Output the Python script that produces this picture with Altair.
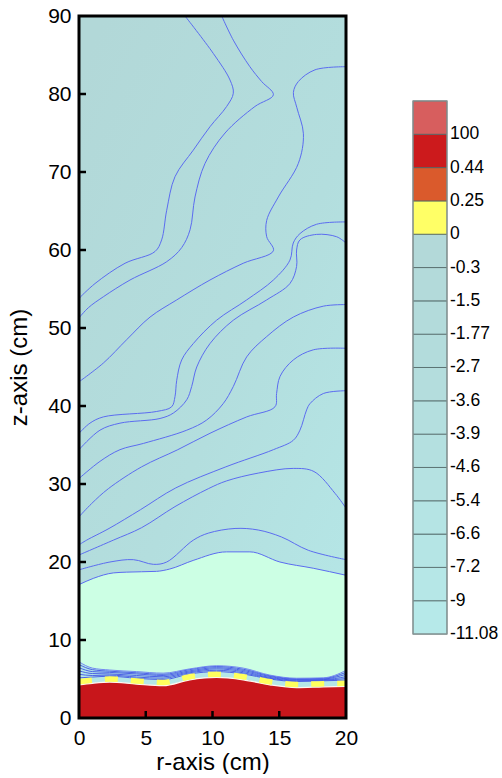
import altair as alt
import pandas as pd

# ---- axes ----
R_TICKS = [0, 5, 10, 15, 20]
Z_TICKS = [0, 10, 20, 30, 40, 50, 60, 70, 80, 90]

# ---- contour lines of the upper domain (r, z in cm) ----
A_R = [7.94, 10.06, 11.31, 11.56, 11.06, 9.81, 8.56, 7.19, 6.57, 6.19, 5.69, 3.45, 1.2, 0.0]
A_Z = [90.0, 85.2, 81.8, 80.1, 78.4, 75.8, 72.8, 69.4, 65.1, 61.3, 59.8, 58.3, 55.7, 53.8]

B_R = [10.69, 11.56, 12.8, 13.68, 14.56, 13.18, 10.94, 9.44, 8.69, 8.32, 7.69, 6.57, 3.82, 1.82, 0.7, 0.0]
B_Z = [90.0, 86.9, 83.5, 81.6, 79.9, 78.4, 75.0, 71.1, 66.8, 62.6, 60.3, 58.5, 56.15, 54.0, 52.6, 51.3]

C_R = [20.0, 17.68, 16.43, 16.06, 16.31, 16.81, 16.43, 14.93, 14.06, 14.06, 14.56, 12.3, 9.81, 7.32, 5.32, 3.57, 1.82, 0.0]
C_Z = [83.5, 83.1, 81.6, 80.2, 78.3, 74.9, 71.1, 66.8, 63.8, 61.7, 59.9, 58.3, 56.15, 53.6, 51.4, 48.5, 45.5, 43.1]

D_R = [20.0, 17.8, 16.55, 16.05, 15.8, 14.56, 12.56, 10.31, 8.56, 7.69, 7.32, 7.19, 6.94, 5.82, 1.82, 0.82, 0.0]
D_Z = [63.6, 63.3, 62.1, 60.9, 58.7, 56.15, 53.6, 51.0, 48.0, 45.9, 43.3, 41.2, 39.9, 39.3, 38.6, 37.8, 36.5]

E_R = [20.0, 19.3, 17.8, 16.55, 16.3, 16.3, 15.8, 14.06, 11.56, 9.81, 8.82, 8.44, 8.07, 7.07, 6.07, 3.07, 1.57, 0.0]
E_Z = [60.9, 61.7, 62.0, 61.3, 60.0, 57.9, 55.7, 53.6, 51.0, 48.0, 45.0, 42.5, 40.8, 39.1, 38.4, 37.8, 36.9, 34.4]

F_R = [20.0, 18.3, 16.05, 14.06, 12.56, 11.56, 10.8, 9.56, 8.07, 4.82, 3.07, 1.57, 0.0]
F_Z = [53.0, 52.8, 51.4, 48.9, 46.3, 42.5, 40.3, 38.2, 36.9, 35.2, 34.4, 32.9, 30.7]

G_R = [20.0, 17.55, 16.05, 15.06, 14.8, 14.68, 12.56, 9.81, 7.4, 4.69, 2.2, 0.95, 0.0]
G_Z = [47.4, 47.2, 45.9, 43.8, 41.6, 39.9, 38.6, 36.5, 34.4, 32.2, 29.4, 27.5, 25.8]

H_R = [20.0, 18.3, 17.3, 17.05, 16.55, 16.05, 14.56, 11.0, 7.25, 4.6, 2.25, 0.57, 0.0]
H_Z = [41.96, 41.6, 40.3, 39.5, 36.9, 35.6, 34.4, 32.2, 29.5, 26.7, 24.3, 22.8, 22.2]

I_R = [20.0, 19.18, 17.6, 16.05, 13.43, 11.06, 9.69, 7.19, 4.69, 2.57, 0.0]
I_Z = [26.9, 28.8, 31.6, 32.0, 31.4, 30.4, 29.4, 27.1, 24.4, 22.8, 20.9]

J_R = [20.0, 17.18, 15.18, 13.43, 11.69, 9.69, 8.56, 6.57, 5.57, 4.07, 2.32, 0.0]
J_Z = [20.3, 21.5, 23.2, 24.1, 24.3, 23.7, 22.8, 20.0, 19.7, 20.3, 20.0, 19.0]

# upper edge of the mint zone
GREEN_TOP_R = [0.0, 1.07, 2.57, 3.57, 5.8, 6.8, 8.55, 11.05, 12.8, 15.05, 17.55, 20.0]
GREEN_TOP_Z = [17.1, 17.9, 18.6, 18.7, 18.8, 19.1, 20.2, 21.3, 21.3, 20.0, 19.2, 18.3]

# ---- bottom layers (all sampled at the same r stations) ----
BOTTOM_R = [0.0, 1.0, 2.3, 4.3, 6.3, 8.3, 10.3, 12.3, 14.3, 16.3, 18.3, 20.0]
RED_TOP = [4.25, 4.45, 4.6, 4.35, 4.15, 4.9, 5.2, 4.9, 4.25, 3.9, 4.0, 4.05]
DASH_Z = [4.65, 4.85, 5.0, 4.75, 4.55, 5.3, 5.6, 5.3, 4.65, 4.3, 4.4, 4.45]
BAND_1 = [5.15, 5.25, 5.35, 5.1, 4.92, 5.65, 5.95, 5.65, 5.0, 4.68, 4.77, 4.85]
BAND_2 = [5.6, 5.45, 5.5, 5.25, 5.1, 5.8, 6.12, 5.8, 5.1, 4.78, 4.85, 5.05]
BAND_3 = [6.05, 5.7, 5.65, 5.45, 5.28, 5.92, 6.3, 5.95, 5.2, 4.87, 4.92, 5.3]
BAND_4 = [6.45, 5.95, 5.85, 5.65, 5.45, 6.05, 6.45, 6.1, 5.32, 4.95, 5.0, 5.6]
BAND_5 = [6.85, 6.2, 6.0, 5.8, 5.6, 6.2, 6.6, 6.25, 5.42, 5.02, 5.08, 5.85]
GREEN_BOTTOM = [7.2, 6.4, 6.15, 5.95, 5.75, 6.3, 6.7, 6.4, 5.5, 5.1, 5.15, 6.1]

# ---- colour legend (bottom to top) ----
LEVEL_LABELS = ["-11.08", "-9", "-7.2", "-6.6", "-5.4", "-4.6", "-3.9", "-3.6",
                "-2.7", "-1.77", "-1.5", "-0.3", "0", "0.25", "0.44", "100"]
LEVEL_COLORS = ["#b6e9e9", "#b6e7e7", "#b5e5e5", "#b5e4e4", "#b5e2e2", "#b4e0e0",
                "#b4dfdf", "#b4dddd", "#b3dcdc", "#b3dbdb", "#b3dada", "#b3d9d9",
                "#ffff66", "#da5a2c", "#cc1a1c", "#d75e5e"]

FONT = "Liberation Sans"
LINE_BLUE = "#5b6cf0"
W, H = 267, 702

# ---- tables ----
contours = {"A": (A_R, A_Z), "B": (B_R, B_Z), "C": (C_R, C_Z), "D": (D_R, D_Z),
            "E": (E_R, E_Z), "F": (F_R, F_Z), "G": (G_R, G_Z), "H": (H_R, H_Z),
            "I": (I_R, I_Z), "J": (J_R, J_Z)}
contour_df = pd.DataFrame([
    {"line": k, "i": i, "r": r, "z": z}
    for k, (rs, zs) in contours.items() for i, (r, z) in enumerate(zip(rs, zs))
])
green_top_df = pd.DataFrame({"r": GREEN_TOP_R, "z": GREEN_TOP_Z})
bottom_df = pd.DataFrame({"r": BOTTOM_R, "red": RED_TOP, "dash": DASH_Z,
                          "green_bottom": GREEN_BOTTOM})
band_df = pd.DataFrame([
    {"band": n, "r": r, "z": z}
    for n, zs in enumerate([BAND_1, BAND_2, BAND_3, BAND_4, BAND_5])
    for r, z in zip(BOTTOM_R, zs)
])
domain_df = pd.DataFrame({"r0": [R_TICKS[0]], "r1": [R_TICKS[-1]],
                          "z0": [Z_TICKS[0]], "z1": [Z_TICKS[-1]]})

# ---- shared scales / axes ----
X_SCALE = alt.Scale(domain=[R_TICKS[0], R_TICKS[-1]], nice=False, zero=False)
Y_SCALE = alt.Scale(domain=[Z_TICKS[0], Z_TICKS[-1]], nice=False, zero=False)
X_AXIS = alt.Axis(values=R_TICKS, format="d", title="r-axis (cm)", grid=False,
                  domain=False, ticks=False, tickSize=0, labelFlush=False,
                  labelOverlap=False, labelFont=FONT, labelFontSize=21,
                  labelColor="black", labelPadding=9, titleFont=FONT,
                  titleFontSize=24, titleFontWeight="normal", titleColor="black",
                  titlePadding=2)
Y_AXIS = alt.Axis(values=Z_TICKS, format="d", title="z-axis (cm)", grid=False,
                  domain=False, ticks=False, tickSize=0, labelFlush=False,
                  labelOverlap=False, labelFont=FONT, labelFontSize=21,
                  labelColor="black", labelPadding=8, titleFont=FONT,
                  titleFontSize=24, titleFontWeight="normal", titleColor="black",
                  titlePadding=16)


def xenc(f):
    return alt.X(f"{f}:Q", scale=X_SCALE, axis=X_AXIS)


def yenc(f):
    return alt.Y(f"{f}:Q", scale=Y_SCALE, axis=Y_AXIS)


# cyan field, slightly greyer towards the top-left
background = alt.Chart(domain_df).mark_rect(
    color=alt.Gradient(gradient="linear", x1=0.1, y1=0, x2=0.9, y2=1,
                       stops=[alt.GradientStop(offset=0, color="#b2d8d8"),
                              alt.GradientStop(offset=0.55, color="#b3dede"),
                              alt.GradientStop(offset=1, color="#b5e7e7")])
).encode(x=xenc("r0"), x2="r1:Q", y=yenc("z0"), y2="z1:Q")

mint = alt.Chart(green_top_df).mark_area(
    color="#ccffe4", interpolate="monotone", clip=True
).encode(x=xenc("r"), y=yenc("z"), y2=alt.datum(0))

band_fill = alt.Chart(bottom_df).mark_area(
    color="#b5e7e7", interpolate="monotone", clip=True
).encode(x=xenc("r"), y=yenc("green_bottom"), y2=alt.datum(0))

band_lines = alt.Chart(band_df).mark_line(
    color="#3f52e4", strokeWidth=0.9, interpolate="monotone", clip=True
).encode(x=xenc("r"), y=yenc("z"), detail="band:N")

green_bottom_line = alt.Chart(bottom_df).mark_line(
    color="#6c7ef0", strokeWidth=0.9, interpolate="monotone", clip=True
).encode(x=xenc("r"), y=yenc("green_bottom"))

red = alt.Chart(bottom_df).mark_area(
    color="#c8161b", interpolate="monotone", clip=True
).encode(x=xenc("r"), y=yenc("red"), y2=alt.datum(0))

red_edge = alt.Chart(bottom_df).mark_line(
    color="#fff7f0", strokeWidth=1.3, interpolate="monotone", clip=True
).encode(x=xenc("r"), y=yenc("red"))

dashes = alt.Chart(bottom_df).mark_line(
    color="#ffff5e", strokeWidth=5.5, strokeDash=[13, 13], strokeCap="butt",
    interpolate="monotone", clip=True
).encode(x=xenc("r"), y=yenc("dash"))

green_top_line = alt.Chart(green_top_df).mark_line(
    color=LINE_BLUE, strokeWidth=1, interpolate="monotone", clip=True
).encode(x=xenc("r"), y=yenc("z"))

contour_lines = alt.Chart(contour_df).mark_line(
    color=LINE_BLUE, strokeWidth=1, interpolate="catmull-rom", clip=True
).encode(x=xenc("r"), y=yenc("z"), detail="line:N", order="i:Q")

x_ticks = alt.Chart(pd.DataFrame({"r": R_TICKS[1:-1]})).mark_rule(
    color="black", strokeWidth=2.5
).encode(x=xenc("r"), y=alt.value(H), y2=alt.value(H - 7))

y_ticks = alt.Chart(pd.DataFrame({"z": Z_TICKS[1:-1]})).mark_rule(
    color="black", strokeWidth=2.5
).encode(y=yenc("z"), x=alt.value(0), x2=alt.value(7))

frame = alt.Chart(domain_df).mark_rect(
    filled=False, stroke="black", strokeWidth=3
).encode(x=xenc("r0"), x2="r1:Q", y=yenc("z0"), y2="z1:Q")

main = alt.layer(
    background, mint, band_fill, band_lines, green_bottom_line, red, red_edge,
    dashes, green_top_line, contour_lines, x_ticks, y_ticks, frame
).properties(width=W, height=H, view=alt.ViewBackground(strokeWidth=0))

# ---- colour bar ----
n_seg = len(LEVEL_COLORS)
seg_df = pd.DataFrame({"k": list(range(n_seg)), "col": LEVEL_COLORS,
                       "label": LEVEL_LABELS})
CB_Y = alt.Scale(domain=[-2.52, n_seg + 2.55], nice=False, zero=False)
CB_X = alt.Scale(domain=[0, 1], nice=False, zero=False)

cb_rects = alt.Chart(seg_df).transform_calculate(
    hi="datum.k + 1", x0="0", x1="1"
).mark_rect(stroke="#4f6464", strokeWidth=1, strokeOpacity=0.8).encode(
    x=alt.X("x0:Q", scale=CB_X, axis=None),
    x2="x1:Q",
    y=alt.Y("k:Q", scale=CB_Y, axis=None),
    y2="hi:Q",
    color=alt.Color("col:N", scale=None),
)

cb_frame = alt.Chart(pd.DataFrame({"lo": [0], "hi": [n_seg], "x0": [0], "x1": [1]})).mark_rect(
    filled=False, stroke="#8a9696", strokeWidth=1.2
).encode(x=alt.X("x0:Q", scale=CB_X, axis=None), x2="x1:Q",
         y=alt.Y("lo:Q", scale=CB_Y, axis=None), y2="hi:Q")

# level values written at the segment boundaries
cb_labels = alt.Chart(seg_df).mark_text(
    align="left", baseline="middle", dx=3, font=FONT, fontSize=17.5, color="black"
).encode(
    x=alt.datum(1, scale=CB_X),
    y=alt.Y("k:Q", scale=CB_Y, axis=None),
    text="label:N",
)

colorbar = alt.layer(cb_rects, cb_frame, cb_labels).properties(
    width=34, height=H, view=alt.ViewBackground(strokeWidth=0)
)

chart = alt.hconcat(main, colorbar, spacing=54).properties(
    padding={"left": 7, "top": 5, "right": 0, "bottom": 0},
    background="white",
)

chart.save("out.html", embed_options={"renderer": "svg", "actions": False})
